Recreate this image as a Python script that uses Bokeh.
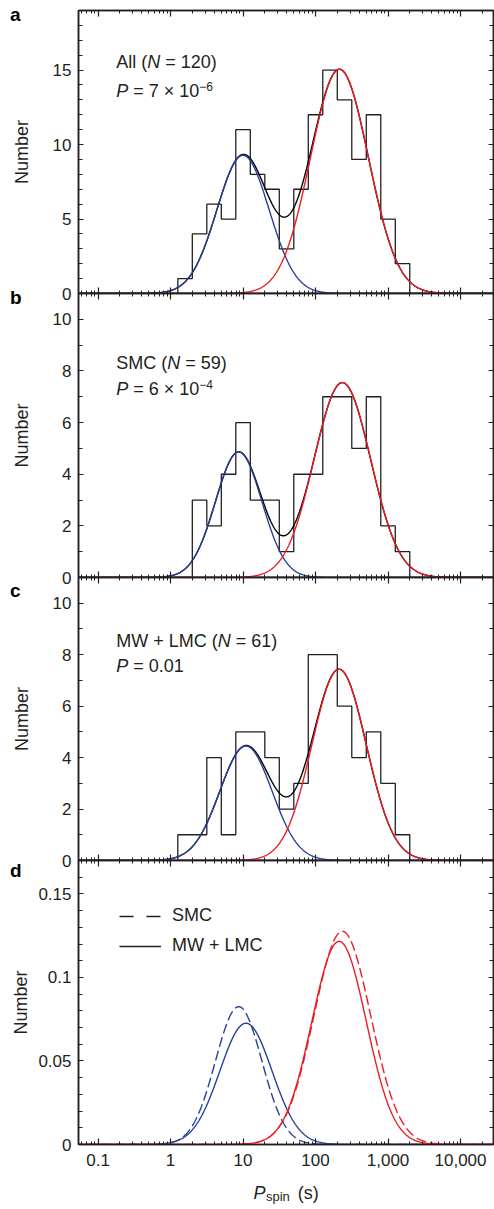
import numpy as np
from bokeh.plotting import figure
from bokeh.layouts import column
from bokeh.models import (FixedTicker, LinearAxis, LogAxis, Label, Legend,
                          LegendItem, Range1d, CustomJSTickFormatter)
from bokeh.embed import file_html
from bokeh.resources import INLINE

# ---------------- data ----------------
bin_edges_log10 = [0.1, 0.3, 0.5, 0.7, 0.9, 1.1, 1.3, 1.5, 1.7, 1.9,
                   2.1, 2.3, 2.5, 2.7, 2.9, 3.1, 3.3]
counts_all = [1, 4, 6, 5, 11, 8, 7, 3, 7, 12, 15, 13, 9, 12, 5, 2]
counts_smc = [0, 3, 2, 4, 6, 3, 3, 1, 4, 4, 7, 7, 5, 7, 2, 1]
counts_mwlmc = [1, 1, 4, 1, 5, 5, 4, 2, 3, 8, 8, 6, 4, 5, 3, 1]

# Gaussian fit components in log10(P): centre, width (dex), peak height
fit_all_blue = [1.00, 0.36, 9.28]
fit_all_red = [2.33, 0.40, 15.05]
fit_smc_blue = [0.94, 0.32, 4.86]
fit_smc_red = [2.37, 0.39, 7.55]
fit_mwlmc_blue = [1.04, 0.36, 4.45]
fit_mwlmc_red = [2.325, 0.375, 7.43]
# panel d: normalised peak heights [blue, red]
norm_smc_peaks = [0.0825, 0.1276]
norm_mwlmc_peaks = [0.0726, 0.1216]

x_major_ticks = [0.1, 1, 10, 100, 1000, 10000]
x_major_labels = ["0.1", "1", "10", "100", "1,000", "10,000"]
d_y_ticks = [0, 0.05, 0.1, 0.15]
d_y_labels = ["0", "0.05", "0.1", "0.15"]
panel_letters = ["a", "b", "c", "d"]

# ---------------- styling ----------------
FONT = "Liberation Sans"
INK = "#231f20"
BLUE = "#27409a"
RED = "#ec1c24"
W = 494
H = 1209
LEFT = 78
OV = 10
X0, X1 = 10 ** -1.27, 10 ** 4.455
x_minor_ticks = [m * 10.0 ** k for k in range(-2, 5) for m in range(2, 10)]
logp = np.linspace(-1.35, 4.5, 900)
P = 10 ** logp

ARIAL = {' ': 278, '(': 333, ')': 333, '=': 584, '+': 584, '\u00d7': 584,
         '\u2212': 584, '.': 278, ',': 278, 'A': 667, 'l': 222, 'N': 722,
         'P': 667, 'S': 667, 'M': 833, 'C': 722, 'W': 944, 'L': 556,
         's': 500, 'p': 556, 'i': 222, 'n': 556}


def text_w(s, size):
    return sum(ARIAL.get(ch, 556) for ch in s) * size / 1000.0


def rich(p, x, y, pieces):
    for text, size, style, dy in pieces:
        lead = len(text) - len(text.lstrip(' '))
        x += text_w(' ' * lead, size)
        core = text.strip(' ')
        p.add_layout(Label(x=x, y=y + dy, x_units='screen', y_units='screen',
                           text=core, text_font=FONT,
                           text_font_size=f"{size}px", text_font_style=style,
                           text_color=INK, text_baseline="alphabetic",
                           text_align="left"))
        x += text_w(core, size)
        trail = len(text) - len(text.rstrip(' '))
        x += text_w(' ' * trail, size)
    return x


def gauss(mu, s, a):
    return a * np.exp(-0.5 * ((logp - mu) / s) ** 2)


def step_xy(edges_log, counts):
    e = [10 ** v for v in edges_log]
    xs, ys = [e[0]], [0]
    for i, c in enumerate(counts):
        xs += [e[i], e[i + 1]]
        ys += [c, c]
    xs.append(e[-1])
    ys.append(0)
    return xs, ys


def blank_labels(ax):
    ax.formatter = CustomJSTickFormatter(code="return ''")
    ax.major_label_text_font_size = "1px"
    ax.major_label_standoff = 0


def panel(frame_h, top_b, bot_b, ymax, y_major, y_minor,
          ylab_standoff, y_overrides=None, x_labels=False, margin=None):
    p = figure(width=W, height=frame_h + top_b + bot_b, x_axis_type="log",
               x_range=Range1d(X0, X1), y_range=Range1d(0, ymax),
               x_axis_location=None, y_axis_location=None,
               output_backend="svg", toolbar_location=None,
               min_border_left=LEFT, min_border_right=1,
               min_border_top=top_b, min_border_bottom=bot_b)
    p.border_fill_alpha = 0
    p.background_fill_color = "white"
    p.outline_line_color = INK
    p.outline_line_width = 1.5
    p.xgrid.grid_line_color = None
    p.ygrid.grid_line_color = None
    if margin is not None:
        p.margin = margin

    for place, show in (("below", x_labels), ("above", False)):
        ax = LogAxis(ticker=FixedTicker(ticks=x_major_ticks,
                                        minor_ticks=x_minor_ticks))
        ax.major_tick_in, ax.major_tick_out = 6, 0
        ax.minor_tick_in, ax.minor_tick_out = 3, 0
        ax.axis_line_color = INK
        ax.axis_line_width = 1.5
        ax.major_tick_line_color = INK
        ax.minor_tick_line_color = INK
        ax.major_tick_line_width = 1.2
        ax.minor_tick_line_width = 1.0
        if show:
            ax.major_label_overrides = dict(zip(x_major_ticks, x_major_labels))
            ax.major_label_text_font = FONT
            ax.major_label_text_font_size = "17px"
            ax.major_label_text_color = INK
            ax.major_label_standoff = 9
        else:
            blank_labels(ax)
        p.add_layout(ax, place)

    for place, show in (("left", True), ("right", False)):
        ax = LinearAxis(ticker=FixedTicker(ticks=y_major, minor_ticks=y_minor))
        ax.major_tick_in, ax.major_tick_out = 5, 0
        ax.minor_tick_in, ax.minor_tick_out = 4, 0
        ax.axis_line_color = INK
        ax.axis_line_width = 1.5
        ax.major_tick_line_color = INK
        ax.minor_tick_line_color = INK
        ax.major_tick_line_width = 1.2
        ax.minor_tick_line_width = 1.0
        if show:
            ax.major_label_text_font = FONT
            ax.major_label_text_font_size = "17px"
            ax.major_label_text_color = INK
            ax.major_label_standoff = 7
            if y_overrides:
                ax.major_label_overrides = y_overrides
            ax.axis_label = "Number"
            ax.axis_label_text_font = FONT
            ax.axis_label_text_font_size = "18px"
            ax.axis_label_text_font_style = "normal"
            ax.axis_label_text_color = INK
            ax.axis_label_standoff = ylab_standoff
        else:
            blank_labels(ax)
        p.add_layout(ax, place)
    return p


def hist_panel(p, counts, fb, fr):
    xs, ys = step_xy(bin_edges_log10, counts)
    p.line(xs, ys, line_color=INK, line_width=1.3)
    yb = gauss(*fb)
    yr = gauss(*fr)
    p.line(P, yb + yr, line_color="black", line_width=1.4)
    p.line(P, yb, line_color=BLUE, line_width=1.4)
    p.line(P, yr, line_color=RED, line_width=1.4)


# ---- panel a ----
FA = 283
pa = panel(FA, 10, OV, 19, [0, 5, 10, 15], list(range(0, 20)), 18)
hist_panel(pa, counts_all, fit_all_blue, fit_all_red)
rich(pa, 37.7, FA - 51.7, [("All (", 18, "normal", 0), ("N", 18, "italic", 0),
                           (" = 120)", 18, "normal", 0)])
rich(pa, 37.7, FA - 80.7, [("P", 18, "italic", 0),
                           (" = 7 \u00d7 10", 18, "normal", 0),
                           ("\u22126", 12, "normal", 5)])

# ---- panel b ----
FB = 284
pb = panel(FB, OV, OV, 11, [0, 2, 4, 6, 8, 10], list(range(0, 12)), 18,
           margin=(-2 * OV, 0, 0, 0))
hist_panel(pb, counts_smc, fit_smc_blue, fit_smc_red)
rich(pb, 37.7, FB - 69, [("SMC (", 18, "normal", 0), ("N", 18, "italic", 0),
                         (" = 59)", 18, "normal", 0)])
rich(pb, 37.7, FB - 95.7, [("P", 18, "italic", 0),
                           (" = 6 \u00d7 10", 18, "normal", 0),
                           ("\u22124", 12, "normal", 5)])

# ---- panel c ----
FC = 283
pc = panel(FC, OV, OV, 11, [0, 2, 4, 6, 8, 10], list(range(0, 12)), 18,
           margin=(-2 * OV, 0, 0, 0))
hist_panel(pc, counts_mwlmc, fit_mwlmc_blue, fit_mwlmc_red)
rich(pc, 37.7, FC - 63.3, [("MW + LMC (", 18, "normal", 0),
                           ("N", 18, "italic", 0),
                           (" = 61)", 18, "normal", 0)])
rich(pc, 37.7, FC - 88.3, [("P", 18, "italic", 0),
                           (" = 0.01", 18, "normal", 0)])

# ---- panel d ----
FD = 284
BOT_D = 65
pd_ = panel(FD, OV, BOT_D, 0.17, d_y_ticks, [i / 100 for i in range(18)], 4,
            y_overrides=dict(zip(d_y_ticks, d_y_labels)), x_labels=True,
            margin=(-2 * OV, 0, 0, 0))
smc_b = gauss(fit_smc_blue[0], fit_smc_blue[1], norm_smc_peaks[0])
smc_r = gauss(fit_smc_red[0], fit_smc_red[1], norm_smc_peaks[1])
mw_b = gauss(fit_mwlmc_blue[0], fit_mwlmc_blue[1], norm_mwlmc_peaks[0])
mw_r = gauss(fit_mwlmc_red[0], fit_mwlmc_red[1], norm_mwlmc_peaks[1])
pd_.line(P, smc_b, line_color=BLUE, line_width=1.4, line_dash="10 4")
pd_.line(P, mw_b, line_color=BLUE, line_width=1.4)
pd_.line(P, smc_r, line_color=RED, line_width=1.4, line_dash="10 4")
pd_.line(P, mw_r, line_color=RED, line_width=1.4)
# legend keys (black, drawn only in the legend)
k1 = pd_.line(x=[float("nan")], y=[float("nan")], line_color=INK,
              line_width=1.3, line_dash="14 13")
k2 = pd_.line(x=[float("nan")], y=[float("nan")], line_color=INK,
              line_width=1.3)
leg = Legend(items=[LegendItem(label="SMC", renderers=[k1]),
                    LegendItem(label="MW + LMC", renderers=[k2])],
             location=(41, 188), orientation="vertical", padding=0, margin=0,
             spacing=9, glyph_width=42, glyph_height=20, label_height=20,
             label_standoff=11, border_line_alpha=0, background_fill_alpha=0,
             label_text_font=FONT, label_text_font_size="18px",
             label_text_color=INK)
pd_.add_layout(leg)

layout = column(pa, pb, pc, pd_, spacing=0)

# ---- transparent overlay (separate root) for texts outside the frames ----
SHIFT = 5   # compensates the inline gap between the two roots
ov = figure(width=W, height=H, x_range=Range1d(0, 1), y_range=Range1d(0, 1),
            x_axis_location=None, y_axis_location=None,
            output_backend="svg", toolbar_location=None,
            min_border_left=0, min_border_right=0, min_border_top=0,
            min_border_bottom=0)
ov.border_fill_alpha = 0
ov.background_fill_alpha = 0
ov.outline_line_color = None
ov.xgrid.grid_line_color = None
ov.ygrid.grid_line_color = None
ov.margin = (-H - SHIFT, 0, 0, 0)

letter_baselines = [19.3, 301.5, 595.0, 875.0]
for letter, base in zip(panel_letters, letter_baselines):
    ov.add_layout(Label(x=9.5, y=H - base, x_units='screen', y_units='screen',
                        text=letter, text_font=FONT, text_font_size="19px",
                        text_font_style="bold", text_color="black",
                        text_baseline="alphabetic", text_align="left"))

# x-axis title P_spin (s)
xe = rich(ov, 253.0, H - 1197.0, [("P", 18, "italic", 0)])
xe = rich(ov, xe + 0.5, H - 1200.5, [("spin", 13, "normal", 0)])
rich(ov, xe + 8, H - 1197.0, [("(s)", 18, "normal", 0)])

open("out.html", "w").write(file_html([layout, ov], INLINE))
